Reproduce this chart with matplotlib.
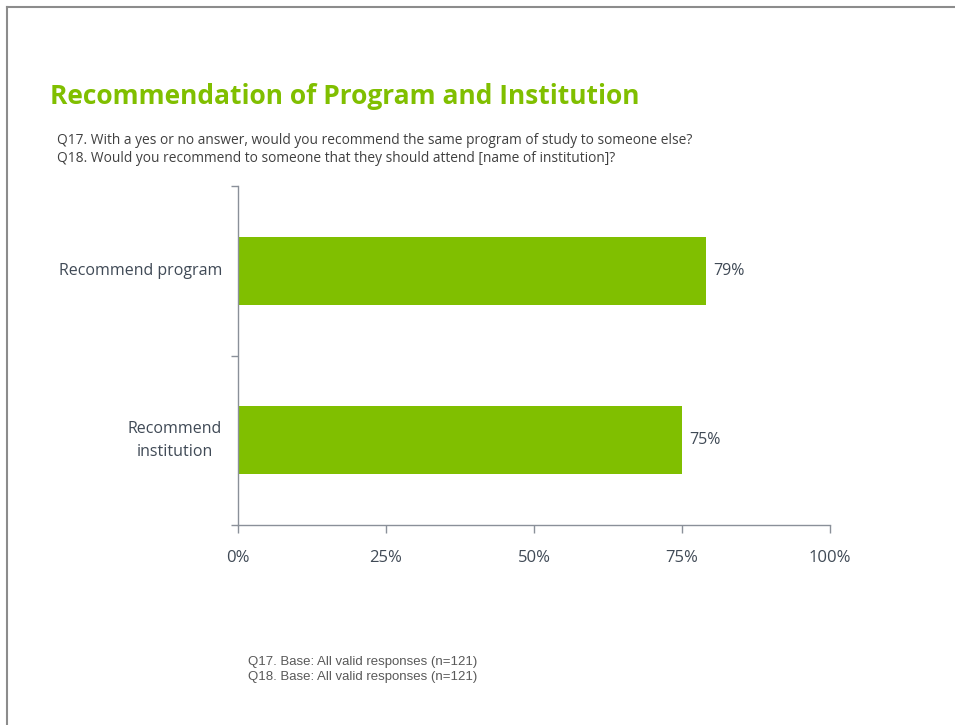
import matplotlib.pyplot as plt
from matplotlib.lines import Line2D

categories = ['Recommend\ninstitution', 'Recommend program']
values = [75, 79]
tick_values = [0, 25, 50, 75, 100]
tick_labels = ['0%', '25%', '50%', '75%', '100%']

green = '#80bf00'
text_col = '#404a56'
axis_col = '#8a9099'

plt.rcParams['font.family'] = ['Open Sans', 'DejaVu Sans']

fig = plt.figure(figsize=(9.55, 7.25), dpi=100)
ax = fig.add_axes([238 / 955, 1 - 525 / 725, 592 / 955, 339 / 725])

pos = list(range(len(categories)))
ax.barh(pos, values, height=0.4, color=green)
for p, v in zip(pos, values):
    ax.text(v + 1.2, p, f'{v}%', va='center', ha='left', fontsize=11.5, color=text_col)

ax.set_xlim(0, 100)
ax.set_ylim(-0.5, 1.5)
ax.set_xticks(tick_values)
ax.set_xticklabels(tick_labels, fontsize=12, color=text_col)
ax.set_yticks([-0.5, 0.5, 1.5])
ax.set_yticklabels([])
ax.tick_params(axis='x', direction='out', length=6, width=1, color=axis_col, pad=12)
ax.tick_params(axis='y', direction='out', length=5, width=1, color=axis_col)
for p, c in zip(pos, categories):
    ax.text(-2.7, p, c, ha='right', va='center', fontsize=11.5, color=text_col,
            multialignment='center', linespacing=1.6)

for s in ['top', 'right']:
    ax.spines[s].set_visible(False)
for s in ['left', 'bottom']:
    ax.spines[s].set_color(axis_col)
    ax.spines[s].set_linewidth(1)

fig.text(50 / 955, 1 - 97 / 725, 'Recommendation of Program and Institution',
         fontsize=19, fontweight='bold', color=green, va='center')
fig.text(57 / 955, 1 - 140 / 725,
         'Q17. With a yes or no answer, would you recommend the same program of study to someone else?',
         fontsize=9.9, color='#404040', va='center')
fig.text(57 / 955, 1 - 159 / 725,
         'Q18. Would you recommend to someone that they should attend [name of institution]?',
         fontsize=9.9, color='#404040', va='center')
fig.text(248 / 955, 1 - 662 / 725, 'Q17. Base: All valid responses (n=121)',
         fontsize=9.5, color='#595959', va='center', family='Liberation Sans')
fig.text(248 / 955, 1 - 677 / 725, 'Q18. Base: All valid responses (n=121)',
         fontsize=9.5, color='#595959', va='center', family='Liberation Sans')

fig.add_artist(Line2D([6.5 / 955, 6.5 / 955], [0, 1 - 6.5 / 725], transform=fig.transFigure,
                      color='#8c8c8c', lw=1.5))
fig.add_artist(Line2D([6.5 / 955, 1], [1 - 6.5 / 725, 1 - 6.5 / 725], transform=fig.transFigure,
                      color='#8c8c8c', lw=1.5))

fig.savefig('out.png', dpi=100)
